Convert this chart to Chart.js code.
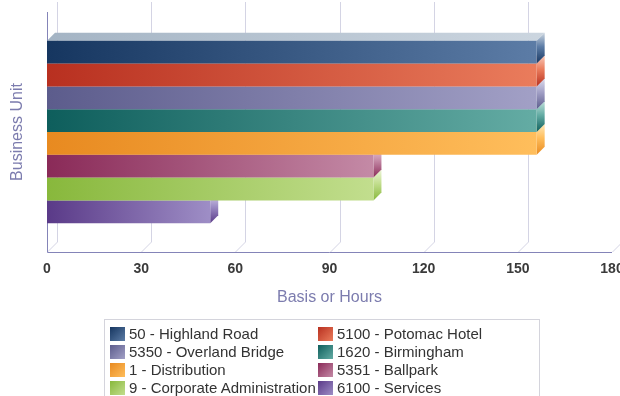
<!DOCTYPE html>
<html><head><meta charset="utf-8">
<script src="https://cdn.jsdelivr.net/npm/chart.js@4.4.0/dist/chart.umd.min.js"></script>
<style>
html,body{margin:0;padding:0;background:#fff;width:620px;height:396px;overflow:hidden;}
#wrap{position:relative;width:620px;height:396px;}
#c{position:absolute;left:0;top:0;}
#legend{position:absolute;left:104px;top:319px;width:436px;height:90px;border:1px solid #d4d4dc;box-sizing:border-box;font:15px "Liberation Sans",Arial,sans-serif;color:#333;}
.item{position:absolute;height:16px;line-height:16px;white-space:nowrap;}
.sw{position:absolute;left:0;top:1px;width:15px;height:14px;}
.lbl{position:absolute;left:19px;top:0;}
</style></head>
<body><div id="wrap"><canvas id="c" width="620" height="396"></canvas><div id="legend"></div></div>
<script>
// ---- data ----
const categories = [''];
const seriesNames = ['50 - Highland Road','5100 - Potomac Hotel','5350 - Overland Bridge','1620 - Birmingham','1 - Distribution','5351 - Ballpark','9 - Corporate Administration','6100 - Services'];
const seriesValues = [156,156,156,156,156,104,104,52];
const xTicks = [0,30,60,90,120,150,180];
const xTitle = 'Basis or Hours';
const yTitle = 'Business Unit';

// ---- styles ----
const darkColors  = ['#163660','#b83020','#5c5c8c','#0e5e5c','#e88a20','#8a2a58','#88b83c','#5a3a88'];
const lightColors = ['#5c7ca6','#ea7c5c','#a2a0c6','#64aca4','#ffbe5c','#c48aa6','#c2de8e','#9e8ec6'];
const topDark  = ['#a4b4c4','#f0a890','#c4c4dc','#98c8c0','#ffd890','#dcaac0','#dcecb8','#c4b8dc'];
const topLight = ['#cbd5df','#f8c8b8','#dcdcec','#c0e0da','#ffe8b8','#ecccd8','#ecf4d8','#dcd4ec'];
const FONT = '"Liberation Sans", Arial, sans-serif';

function barFill(c, i){
  const ch = c.chart;
  if (!ch.chartArea) return darkColors[i];
  const x = ch.scales.x;
  const g = ch.ctx.createLinearGradient(x.getPixelForValue(0),0,x.getPixelForValue(seriesValues[i]),0);
  g.addColorStop(0, darkColors[i]);
  g.addColorStop(1, lightColors[i]);
  return g;
}

const threeD = {
  id:'threeD',
  beforeDatasetsDraw(chart){
    const {ctx, chartArea:a, scales:{x}} = chart;
    const G = 10, D = 8;
    ctx.save();
    ctx.lineWidth = 1;
    xTicks.forEach(v=>{
      const px = Math.round(x.getPixelForValue(v)) + 0.5;
      ctx.strokeStyle = '#d4d4e4';
      ctx.beginPath();
      ctx.moveTo(px, a.bottom);
      ctx.lineTo(px+G, a.bottom-G);
      ctx.lineTo(px+G, a.top-G);
      ctx.stroke();
    });
    ctx.strokeStyle = '#8484b8';
    ctx.beginPath();
    const l = Math.round(a.left)+0.5, b = Math.round(a.bottom)+0.5;
    ctx.moveTo(l, a.top);
    ctx.lineTo(l, b);
    ctx.lineTo(a.right, b);
    ctx.stroke();
    for (let i = seriesValues.length-1; i >= 0; i--){
      const el = chart.getDatasetMeta(i).data[0];
      if (!el) continue;
      const top = el.y - el.height/2, bot = el.y + el.height/2;
      const x0 = el.base, x1 = el.x;
      let g = ctx.createLinearGradient(x0,0,x1,0);
      g.addColorStop(0, topDark[i]); g.addColorStop(1, topLight[i]);
      ctx.fillStyle = g;
      ctx.beginPath();
      ctx.moveTo(x0, top); ctx.lineTo(x0+D, top-D); ctx.lineTo(x1+D, top-D); ctx.lineTo(x1, top); ctx.closePath();
      ctx.fill();
      g = ctx.createLinearGradient(0, top-D, 0, bot);
      g.addColorStop(0, topLight[i]); g.addColorStop(0.45, lightColors[i]); g.addColorStop(1, darkColors[i]);
      ctx.fillStyle = g;
      ctx.beginPath();
      ctx.moveTo(x1, top); ctx.lineTo(x1+D, top-D); ctx.lineTo(x1+D, bot-D); ctx.lineTo(x1, bot); ctx.closePath();
      ctx.fill();
    }
    ctx.restore();
  }
};

new Chart(document.getElementById('c').getContext('2d'), {
  type:'bar',
  data:{
    labels: categories,
    datasets: seriesNames.map((n,i)=>({
      label:n, data:[seriesValues[i]],
      backgroundColor: c=>barFill(c,i),
      borderWidth:0, categoryPercentage:0.76, barPercentage:1
    }))
  },
  options:{
    indexAxis:'y', responsive:false, animation:false, events:[],
    layout:{padding:{top:12,right:8,bottom:88,left:0}},
    plugins:{legend:{display:false},tooltip:{enabled:false}},
    scales:{
      x:{
        min:0, max:180,
        afterBuildTicks: s=>{ s.ticks = xTicks.map(v=>({value:v})); },
        grid:{display:false, drawTicks:false}, border:{display:false},
        ticks:{color:'#3a3a3a', font:{family:FONT,size:14,weight:'bold'}, padding:9, maxRotation:0, autoSkip:false},
        title:{display:true, text:xTitle, color:'#7c7cae', font:{family:FONT,size:16}, padding:{top:0,bottom:1}},
        afterFit: s=>{ s.height = 56; s.paddingRight = 0; s.paddingLeft = 0; }
      },
      y:{
        grid:{display:false, drawTicks:false}, border:{display:false}, ticks:{display:false},
        title:{display:true, text:yTitle, color:'#7c7cae', font:{family:FONT,size:16}, padding:{top:8,bottom:0}},
        afterFit: s=>{ s.width = 47; }
      }
    }
  },
  plugins:[threeD]
});

const leg = document.getElementById('legend');
seriesNames.forEach((n,i)=>{
  const col = i%2, row = Math.floor(i/2);
  const d = document.createElement('div');
  d.className = 'item';
  d.style.left = (col===0 ? 5 : 213) + 'px';
  d.style.top = (6 + row*18) + 'px';
  const sw = document.createElement('div');
  sw.className = 'sw';
  sw.style.background = 'linear-gradient(135deg,'+darkColors[i]+','+lightColors[i]+')';
  const t = document.createElement('span');
  t.className = 'lbl'; t.textContent = n;
  d.appendChild(sw); d.appendChild(t);
  leg.appendChild(d);
});
</script>
</body></html>
